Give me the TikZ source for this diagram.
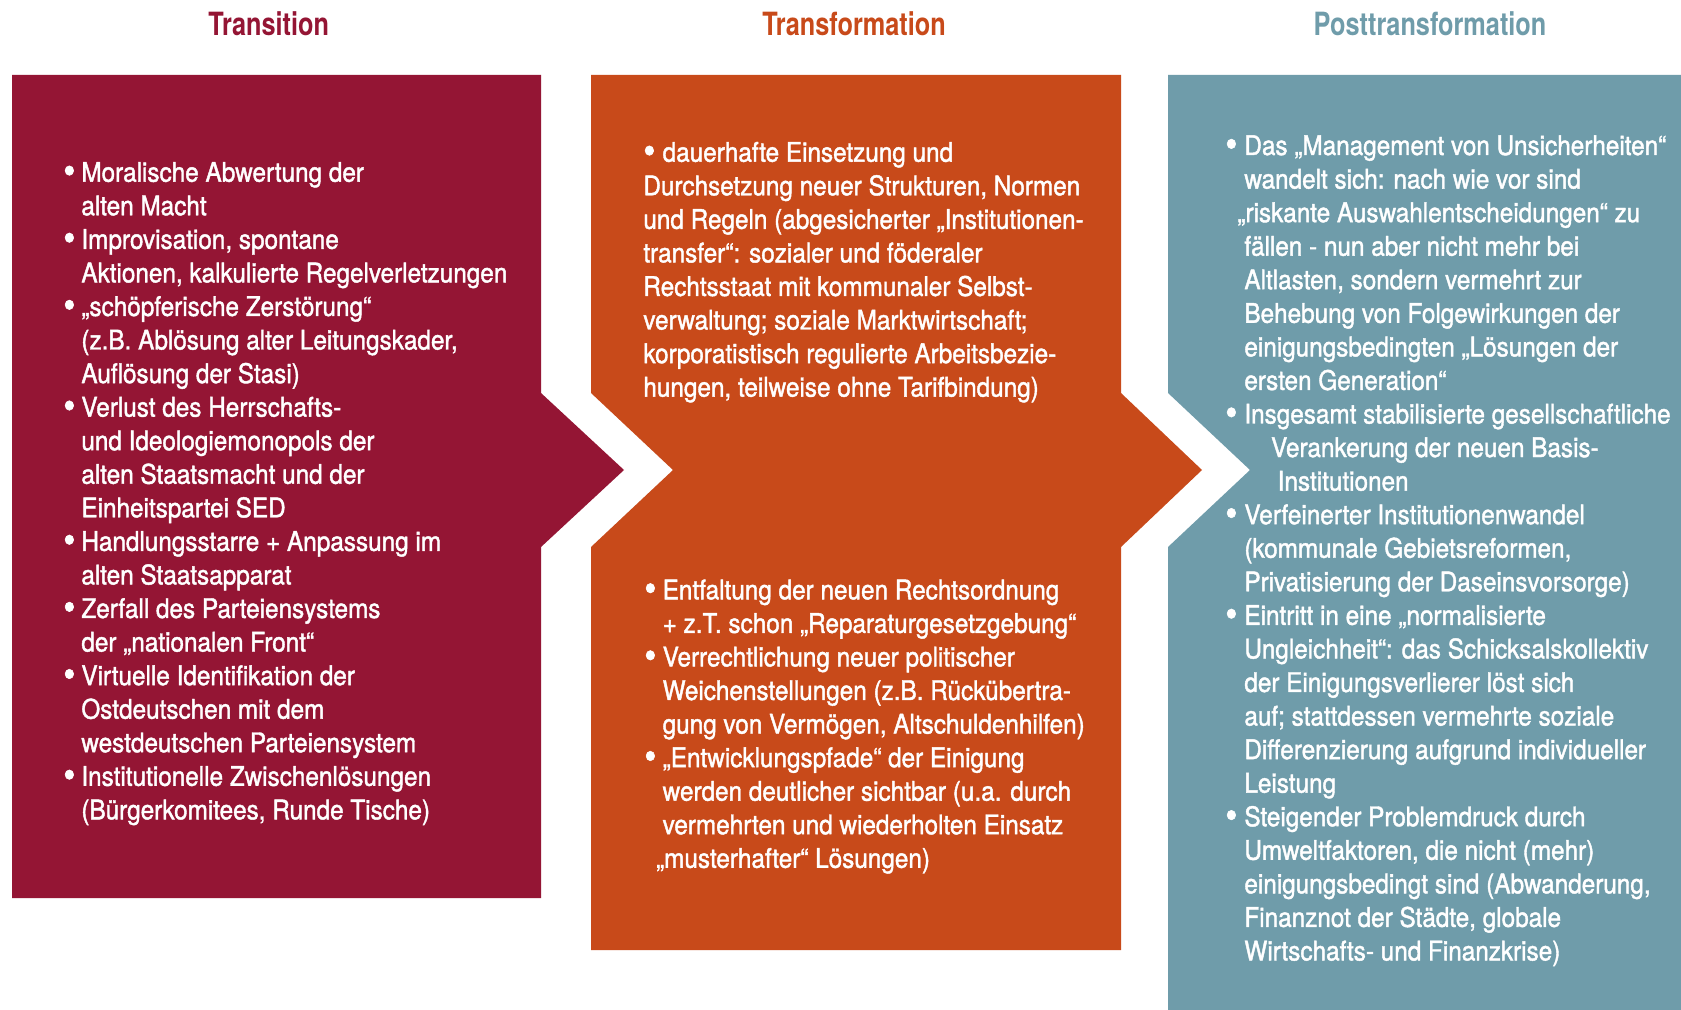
\documentclass[tikz,border=0pt]{standalone}
\usepackage{fontspec}
\setmainfont{TeX Gyre Heros}[FakeStretch=0.9,UprightFeatures={FakeBold=1.5}]
\newfontfamily\titlefont{TeX Gyre Heros}[FakeStretch=0.79]
\definecolor{crim}{RGB}{148,21,52}
\definecolor{oran}{RGB}{200,74,26}
\definecolor{slate}{RGB}{111,156,170}
\newcommand\bu[1][9pt]{\makebox[#1][l]{\raisebox{-1pt}{\fontsize{19}{19}\selectfont•}}}
\newcommand\ind[1][9pt]{\hspace*{#1}}
\newcommand\txt[1]{\parbox[t]{300pt}{\fontsize{13.5}{16.78}\selectfont\parindent=0pt #1}}
\tikzset{
  panel/.style={draw=none},
  ttl/.style={anchor=base, inner sep=0pt, font=\titlefont\bfseries\fontsize{16}{18}\selectfont},
  body/.style={anchor=base west, inner sep=0pt, text=white}
}
\begin{document}
\begin{tikzpicture}[x=0.5pt,y=-0.5pt]
\useasboundingbox (0,0) rectangle (1681,1010);
\fill[white] (0,0) rectangle (1681,1010);
% panels
\fill[crim,panel] (12,75) -- (541,75) -- (541,393) -- (624,470) -- (541,547) -- (541,898) -- (12,898) -- cycle;
\fill[oran,panel] (591,75) -- (1121,75) -- (1121,393) -- (1202,470) -- (1121,547) -- (1121,950) -- (591,950) -- (591,547) -- (673,470) -- (591,393) -- cycle;
\fill[slate,panel] (1168,75) -- (1681,75) -- (1681,1010) -- (1168,1010) -- (1168,547) -- (1250,470) -- (1168,393) -- cycle;
% titles
\node[ttl, text=crim] (t1) at (268.7,36) {Transition};
\node[ttl, text=oran] (t2) at (854,36) {Transformation};
\node[ttl, text=slate] (t3) at (1430,36) {Posttransformation};
% texts
\node[body] (b1) at (63,181.7) {\txt{%
\bu Moralische Abwertung der\\
\ind alten Macht\\
\bu Improvisation, spontane\\
\ind Aktionen, kalkulierte Regelverletzungen\\
\bu „schöpferische Zerstörung“\\
\ind (z.B. Ablösung alter Leitungskader,\\
\ind Auflösung der Stasi)\\
\bu Verlust des Herrschafts-\\
\ind und Ideologiemonopols der\\
\ind alten Staatsmacht und der\\
\ind Einheitspartei SED\\
\bu Handlungsstarre + Anpassung im\\
\ind alten Staatsapparat\\
\bu Zerfall des Parteiensystems\\
\ind der „nationalen Front“\\
\bu Virtuelle Identifikation der\\
\ind Ostdeutschen mit dem\\
\ind westdeutschen Parteiensystem\\
\bu Institutionelle Zwischenlösungen\\
\ind (Bürgerkomitees, Runde Tische)}};
\node[body] (b2a) at (643,161.7) {\txt{%
\bu[9.65pt]dauerhafte Einsetzung und\\
Durchsetzung neuer Strukturen, Normen\\
und Regeln (abgesicherter „Institutionen-\\
transfer“: sozialer und föderaler\\
Rechtsstaat mit kommunaler Selbst-\\
verwaltung; soziale Marktwirtschaft;\\
korporatistisch regulierte Arbeitsbezie-\\
hungen, teilweise ohne Tarifbindung)}};
\node[body] (b2b) at (644,599.3) {\txt{%
\bu[9.15pt]Entfaltung der neuen Rechtsordnung\\
\ind[9.15pt]+ z.T. schon „Reparaturgesetzgebung“\\
\bu[9.15pt]Verrechtlichung neuer politischer\\
\ind[9.15pt]Weichenstellungen (z.B. Rückübertra-\\
\ind[9.15pt]gung von Vermögen, Altschuldenhilfen)\\
\bu[9.15pt]„Entwicklungspfade“ der Einigung\\
\ind[9.15pt]werden deutlicher sichtbar (u.a. durch\\
\ind[9.15pt]vermehrten und wiederholten Einsatz\\
\ind[5.85pt]„musterhafter“ Lösungen)}};
\node[body] (b3) at (1225,155) {\txt{%
\bu[9.5pt]Das „Management von Unsicherheiten“\\
\ind[9.5pt]wandelt sich: nach wie vor sind\\
\ind[6pt]„riskante Auswahlentscheidungen“ zu\\
\ind[9.5pt]fällen - nun aber nicht mehr bei\\
\ind[9.5pt]Altlasten, sondern vermehrt zur\\
\ind[9.5pt]Behebung von Folgewirkungen der\\
\ind[9.5pt]einigungsbedingten „Lösungen der\\
\ind[9.5pt]ersten Generation“\\
\bu[9.5pt]Insgesamt stabilisierte gesellschaftliche\\
\ind[22.85pt]Verankerung der neuen Basis-\\
\ind[26.15pt]Institutionen\\
\bu[9.5pt]Verfeinerter Institutionenwandel\\
\ind[9.5pt](kommunale Gebietsreformen,\\
\ind[9.5pt]Privatisierung der Daseinsvorsorge)\\
\bu[9.5pt]Eintritt in eine „normalisierte\\
\ind[9.5pt]Ungleichheit“: das Schicksalskollektiv\\
\ind[9.5pt]der Einigungsverlierer löst sich\\
\ind[9.5pt]auf; stattdessen vermehrte soziale\\
\ind[9.5pt]Differenzierung aufgrund individueller\\
\ind[9.5pt]Leistung\\
\bu[9.5pt]Steigender Problemdruck durch\\
\ind[9.5pt]Umweltfaktoren, die nicht (mehr)\\
\ind[9.5pt]einigungsbedingt sind (Abwanderung,\\
\ind[9.5pt]Finanznot der Städte, globale\\
\ind[9.5pt]Wirtschafts- und Finanzkrise)}};
\end{tikzpicture}
\end{document}
